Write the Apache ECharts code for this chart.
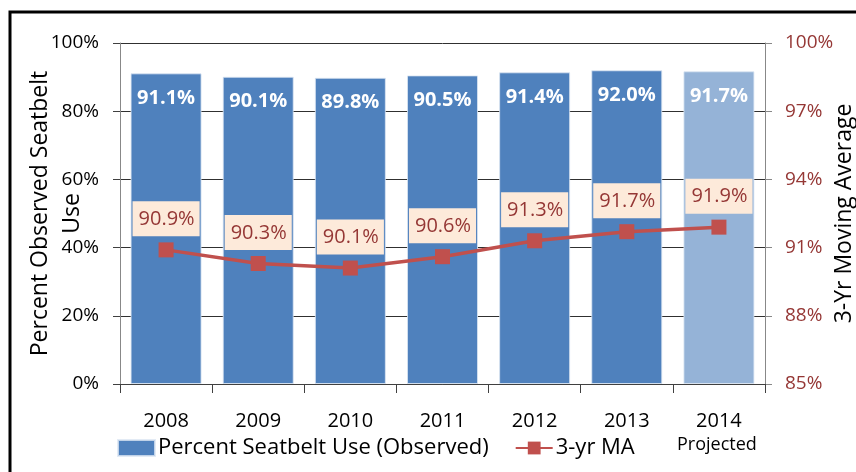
<!DOCTYPE html>
<html>
<head>
<meta charset="utf-8">
<script src="https://cdn.jsdelivr.net/npm/echarts@6/dist/echarts.min.js"></script>
<style>
  html, body { margin: 0; padding: 0; background: #fff; }
  #chart { width: 856px; height: 472px; }
</style>
</head>
<body>
<div id="chart"></div>
<script>
// chart data
var years = ['2008', '2009', '2010', '2011', '2012', '2013', '2014'];
var seatbeltUse = [91.1, 90.1, 89.8, 90.5, 91.4, 92.0, 91.7];
var movingAvg = [90.9, 90.3, 90.1, 90.6, 91.3, 91.7, 91.9];
var projectedYear = '2014';

var font = 'Open Sans';
var chart = echarts.init(document.getElementById('chart'));

var barData = seatbeltUse.map(function (v, i) {
    if (years[i] === projectedYear) {
        return { value: v, itemStyle: { color: '#95B3D7' } };
    }
    return v;
});

var option = {
    animation: false,
    textStyle: { fontFamily: font },
    grid: { left: 120, right: 91, top: 43, bottom: 88, outerBoundsMode: 'none', containLabel: false },
    legend: {
        left: 117,
        top: 437,
        padding: 0,
        itemWidth: 37,
        itemHeight: 16,
        itemGap: 26,
        textStyle: { fontFamily: font, fontSize: 22, color: '#000', padding: [0, 0, 0, -2] },
        data: [
            { name: 'Percent Seatbelt Use (Observed)', icon: 'rect' },
            { name: '3-yr MA' }
        ]
    },
    graphic: [
        {
            type: 'rect',
            shape: { x: 10, y: 12, width: 900, height: 500 },
            style: { fill: 'none', stroke: '#000', lineWidth: 3 },
            silent: true
        },
        {
            type: 'text',
            left: 677,
            top: 436,
            style: { text: 'Projected', font: '18px "Open Sans"', fill: '#000' }
        }
    ],
    xAxis: {
        type: 'category',
        data: years,
        axisLine: { lineStyle: { color: '#404040' } },
        axisTick: { show: true, length: 9, lineStyle: { color: '#404040' } },
        axisLabel: { color: '#000', fontSize: 20, margin: 27, fontFamily: font }
    },
    yAxis: [
        {
            type: 'value',
            min: 0,
            max: 100,
            interval: 20,
            name: 'Percent Observed Seatbelt\nUse',
            nameLocation: 'middle',
            nameRotate: 90,
            nameGap: 32,
            nameMoveOverlap: false,
            nameTextStyle: { fontSize: 23, color: '#000', lineHeight: 32, fontFamily: font },
            axisLine: { show: true, lineStyle: { color: '#888' } },
            axisTick: { show: true, length: 7, inside: false, lineStyle: { color: '#404040' } },
            axisLabel: {
                color: '#000', fontSize: 19, margin: 21, fontFamily: font,
                formatter: '{value}%'
            },
            splitLine: { lineStyle: { color: '#303030', width: 1 } }
        },
        {
            type: 'value',
            min: 85,
            max: 100,
            interval: 3,
            position: 'right',
            name: '3-Yr Moving Average',
            nameLocation: 'middle',
            nameRotate: 90,
            nameGap: 68,
            nameMoveOverlap: false,
            nameTextStyle: { fontSize: 23, color: '#000', fontFamily: font },
            axisLine: { show: true, lineStyle: { color: '#888' } },
            axisTick: { show: true, length: 7, lineStyle: { color: '#888' } },
            axisLabel: {
                color: '#953735', fontSize: 19, margin: 20, fontFamily: font,
                formatter: '{value}%'
            },
            splitLine: { show: false }
        }
    ],
    series: [
        {
            name: 'Percent Seatbelt Use (Observed)',
            type: 'bar',
            yAxisIndex: 0,
            barWidth: 71,
            data: barData,
            itemStyle: { color: '#4F81BD', borderColor: 'rgba(220,230,242,0.8)', borderWidth: 1 },
            label: {
                show: true,
                position: 'insideTop',
                distance: 15,
                color: '#fff',
                fontWeight: 'bold',
                fontSize: 20,
                fontFamily: font,
                formatter: function (p) { return p.value.toFixed(1) + '%'; }
            }
        },
        {
            name: '3-yr MA',
            type: 'line',
            yAxisIndex: 1,
            data: movingAvg,
            symbol: 'rect',
            symbolSize: 15,
            lineStyle: { color: '#C0504D', width: 3.5 },
            itemStyle: { color: '#C0504D' },
            label: {
                show: true,
                position: 'top',
                distance: 6,
                color: '#953735',
                fontSize: 20,
                fontFamily: font,
                backgroundColor: '#FDEADA',
                padding: [8, 5, 7, 6],
                formatter: function (p) { return p.value.toFixed(1) + '%'; }
            }
        }
    ]
};

chart.setOption(option);
</script>
</body>
</html>
